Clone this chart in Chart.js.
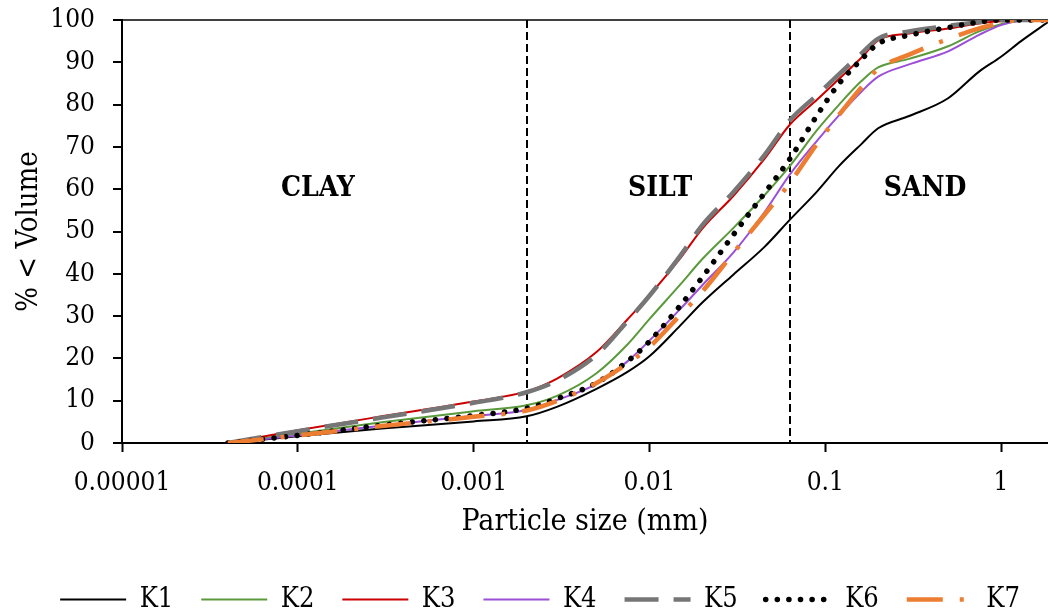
<!DOCTYPE html>
<html>
<head>
<meta charset="utf-8">
<title>Particle size distribution</title>
<script src="https://cdn.jsdelivr.net/npm/chart.js@4.4.1/dist/chart.umd.min.js"></script>
<style>
	html, body { margin: 0; padding: 0; background: #fff; }
	#wrap { width: 1048px; height: 615px; }
</style>
</head>
<body>
<div id="wrap"><canvas id="chart" width="1048" height="615"></canvas></div>
<script>
// particle sizes (mm) shared by every sample
const sizes = [0.00004, 0.0001, 0.0003, 0.001, 0.002, 0.003, 0.005, 0.0075, 0.01, 0.015, 0.02, 0.03, 0.045, 0.063, 0.09, 0.12, 0.16, 0.2, 0.3, 0.5, 0.75, 1, 1.3, 1.85];

// cumulative % < volume per sample
const k1 = [0, 1.6, 3.4, 5.1, 6.3, 8.6, 12.8, 16.8, 20.5, 27.8, 33.2, 39.8, 46.3, 52.8, 59.5, 65.5, 70.6, 74.4, 77.3, 81.5, 87.8, 91.3, 95.0, 99.5];
const k2 = [0, 2.2, 4.9, 7.5, 8.9, 11.2, 16.5, 23.3, 29.3, 37.5, 43.5, 50.8, 58.5, 65.5, 74.0, 80.0, 85.5, 88.8, 90.8, 93.8, 97.3, 99.0, 99.9, 100];
const k3 = [0, 3.0, 6.3, 9.8, 12.2, 15.3, 21.5, 29.2, 34.9, 43.7, 50.7, 58.4, 67.1, 75.3, 81.2, 86.1, 91.0, 95.2, 96.8, 98.0, 99.2, 99.7, 100, 100];
const k4 = [0, 1.8, 4.1, 6.4, 7.8, 10.2, 14.0, 19.3, 24.2, 31.7, 37.3, 45.0, 54.5, 63.5, 71.5, 77.5, 83.0, 86.6, 89.5, 92.6, 96.5, 98.8, 99.8, 100];
const k5 = [0, 2.8, 6.0, 9.5, 12.0, 14.8, 20.8, 28.8, 34.8, 44.3, 51.5, 59.3, 68.0, 76.3, 82.3, 87.2, 92.0, 95.6, 97.3, 98.6, 99.5, 100, 100, 100];
const k6 = [0, 1.8, 4.2, 6.5, 8.2, 10.5, 14.2, 19.3, 24.0, 32.5, 39.2, 49.2, 59.0, 67.2, 77.5, 85.0, 90.6, 94.4, 96.4, 98.2, 99.5, 100, 100, 100];
const k7 = [0, 1.8, 4.0, 6.2, 7.7, 10.0, 14.2, 18.8, 22.7, 30.3, 35.8, 44.9, 53.9, 61.5, 70.8, 77.6, 84.0, 88.4, 91.8, 95.5, 98.0, 99.3, 100, 100];

const sampleNames = ['K1', 'K2', 'K3', 'K4', 'K5', 'K6', 'K7'];
const sampleValues = [k1, k2, k3, k4, k5, k6, k7];

// x axis decades and their labels
const sizeTicks = [0.00001, 0.0001, 0.001, 0.01, 0.1, 1];
const sizeTickLabels = ['0.00001', '0.0001', '0.001', '0.01', '0.1', '1'];

// clay / silt / sand limits (mm) and zone names
const zoneLimits = [0.002, 0.063];
const zoneNames = ['CLAY', 'SILT', 'SAND'];
const zoneLabelX = [0.00013, 0.0115, 0.37];
const zoneLabelY = 60;

const SERIF = "'DejaVu Serif Condensed', 'DejaVu Serif', serif";
const PLOT_LEFT = 122;
const PLOT_BOTTOM = 443;
const PAD_BOTTOM = -8;
const LEGEND_SHIFT = 16;

const lineStyles = [
	{ borderColor: '#000000', borderWidth: 2 },
	{ borderColor: '#5b9a3c', borderWidth: 2 },
	{ borderColor: '#cc0000', borderWidth: 2 },
	{ borderColor: '#9b4fd6', borderWidth: 2 },
	{ borderColor: '#767676', borderWidth: 4.5, borderDash: [34, 15] },
	{ borderColor: '#000000', borderWidth: 5.5, borderDash: [0.1, 11.5], borderCapStyle: 'round' },
	{ borderColor: '#ed7d31', borderWidth: 4.5, borderDash: [36, 17, 4, 17] }
];

function buildDatasets() {
	return sampleNames.map((name, i) => Object.assign({
		label: name,
		data: sizes.map((size, j) => ({ x: size, y: sampleValues[i][j] })),
		fill: false,
		pointRadius: 0,
		pointStyle: 'line',
		cubicInterpolationMode: 'monotone',
		borderCapStyle: 'butt',
		borderDash: [],
		order: sampleNames.length - 1 - i
	}, lineStyles[i]));
}

// legend entries drawn with the dataset's own dash pattern
function legendLabels(chart) {
	const items = Chart.defaults.plugins.legend.labels.generateLabels(chart);
	items.forEach((item) => {
		const ds = chart.data.datasets[item.datasetIndex];
		item.strokeStyle = ds.borderColor;
		item.lineWidth = ds.borderWidth;
		item.lineDash = ds.borderDash;
		item.lineCap = ds.borderCapStyle;
	});
	return items;
}

const zonePlugin = {
	id: 'zones',
	afterLayout(chart) {
		if (chart.legend) {
			chart.legend.left += LEGEND_SHIFT;
			chart.legend.right += LEGEND_SHIFT;
		}
	},
	beforeDatasetsDraw(chart) {
		const { ctx, chartArea, scales } = chart;
		ctx.save();
		ctx.strokeStyle = '#000';
		ctx.lineWidth = 2;
		ctx.setLineDash([8, 4]);
		zoneLimits.forEach((limit) => {
			const px = Math.round(scales.x.getPixelForValue(limit));
			ctx.beginPath();
			ctx.moveTo(px, chartArea.top);
			ctx.lineTo(px, chartArea.bottom);
			ctx.stroke();
		});
		ctx.setLineDash([]);
		ctx.font = 'bold 28px ' + SERIF;
		ctx.fillStyle = '#000';
		ctx.textAlign = 'center';
		ctx.textBaseline = 'middle';
		zoneNames.forEach((name, i) => {
			ctx.fillText(name, scales.x.getPixelForValue(zoneLabelX[i]), scales.y.getPixelForValue(zoneLabelY));
		});
		ctx.restore();
	}
};

new Chart(document.getElementById('chart').getContext('2d'), {
	type: 'line',
	data: { datasets: buildDatasets() },
	plugins: [zonePlugin],
	options: {
		responsive: false,
		animation: false,
		devicePixelRatio: 1,
		layout: { padding: { top: 20, right: 0, bottom: PAD_BOTTOM, left: 0 } },
		plugins: {
			tooltip: { enabled: false },
			legend: {
				position: 'bottom',
				labels: {
					usePointStyle: true,
					pointStyleWidth: 66,
					padding: 28,
					color: '#000',
					font: { family: SERIF, size: 27 },
					generateLabels: legendLabels,
					sort: (a, b) => a.datasetIndex - b.datasetIndex
				}
			}
		},
		scales: {
			x: {
				type: 'logarithmic',
				min: 0.00001,
				max: 1.85,
				afterBuildTicks(scale) {
					scale.ticks = sizeTicks.map((value) => ({ value }));
				},
				afterFit(scale) {
					const legendHeight = scale.chart.legend ? scale.chart.legend.height : 0;
					scale.height = scale.chart.height - PAD_BOTTOM - legendHeight - PLOT_BOTTOM;
				},
				ticks: {
					autoSkip: false,
					maxRotation: 0,
					padding: 16,
					color: '#000',
					font: { family: SERIF, size: 26 },
					callback: (value, index) => sizeTickLabels[index]
				},
				grid: { drawOnChartArea: false, tickLength: 9, tickColor: '#000', tickWidth: 2 },
				border: { display: true, color: '#000', width: 2 },
				title: {
					display: true,
					text: 'Particle size (mm)',
					color: '#000',
					font: { family: SERIF, size: 30 },
					padding: { top: 0, bottom: 18 }
				}
			},
			y: {
				min: 0,
				max: 100,
				afterFit(scale) {
					scale.width = PLOT_LEFT;
					scale.paddingTop = 14;
					scale.paddingBottom = 0;
				},
				ticks: {
					stepSize: 10,
					padding: 18,
					color: '#000',
					font: { family: SERIF, size: 26 }
				},
				grid: {
					color: (ctx) => (ctx.tick && ctx.tick.value === 100 ? '#404040' : 'rgba(0,0,0,0)'),
					lineWidth: 2,
					tickLength: 9,
					tickColor: '#000',
					tickWidth: 2
				},
				border: { display: true, color: '#000', width: 2 },
				title: {
					display: true,
					text: '% < Volume',
					color: '#000',
					font: { family: SERIF, size: 29 },
					padding: { top: 12, bottom: 0 }
				}
			}
		}
	}
});
</script>
</body>
</html>
